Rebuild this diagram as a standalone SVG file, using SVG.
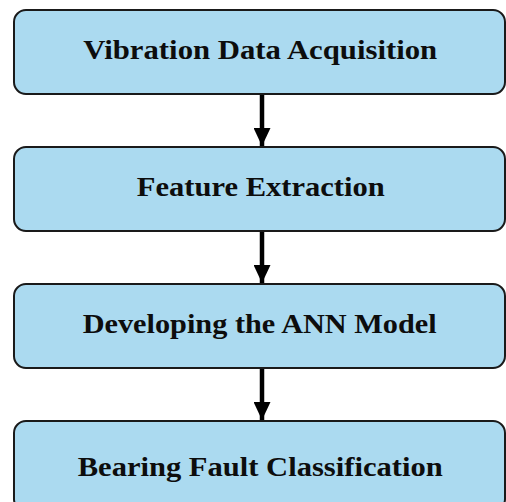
<svg xmlns="http://www.w3.org/2000/svg" width="506" height="502" viewBox="0 0 506 502">
  <defs>
    <style>
      .box { fill: #abdaf0; stroke: #1a1a1a; stroke-width: 2; }
      .label { font-family: "Liberation Serif", "DejaVu Serif", serif; font-weight: bold; font-size: 28px; fill: #0d0d0d; text-anchor: middle; }
      .link { stroke: #000; stroke-width: 4.5; fill: none; }
    </style>
    <marker id="head" markerUnits="userSpaceOnUse" markerWidth="18" markerHeight="17" refX="18" refY="8.5" orient="auto">
      <path d="M0,0 L18,8.5 L0,17 Z" fill="#000"/>
    </marker>
  </defs>

  <g id="node-acquisition">
    <rect class="box" x="14" y="10" width="491" height="84" rx="12"/>
    <text class="label" x="260.2" y="59" textLength="354" lengthAdjust="spacingAndGlyphs">Vibration Data Acquisition</text>
  </g>
  <g id="node-features">
    <rect class="box" x="14" y="147" width="491" height="84" rx="12"/>
    <text class="label" x="260.8" y="195.7" textLength="248" lengthAdjust="spacingAndGlyphs">Feature Extraction</text>
  </g>
  <g id="node-ann">
    <rect class="box" x="14" y="284" width="491" height="84" rx="12"/>
    <text class="label" x="259.7" y="333.3" textLength="354" lengthAdjust="spacingAndGlyphs">Developing the ANN Model</text>
  </g>
  <g id="node-classification">
    <rect class="box" x="14" y="421" width="491" height="90" rx="12"/>
    <text class="label" x="260.2" y="476" textLength="365" lengthAdjust="spacingAndGlyphs">Bearing Fault Classification</text>
  </g>

  <g id="connectors">
    <line class="link" x1="262" y1="95" x2="262" y2="146" marker-end="url(#head)"/>
    <line class="link" x1="262" y1="232" x2="262" y2="283" marker-end="url(#head)"/>
    <line class="link" x1="262" y1="369" x2="262" y2="420" marker-end="url(#head)"/>
  </g>
</svg>
